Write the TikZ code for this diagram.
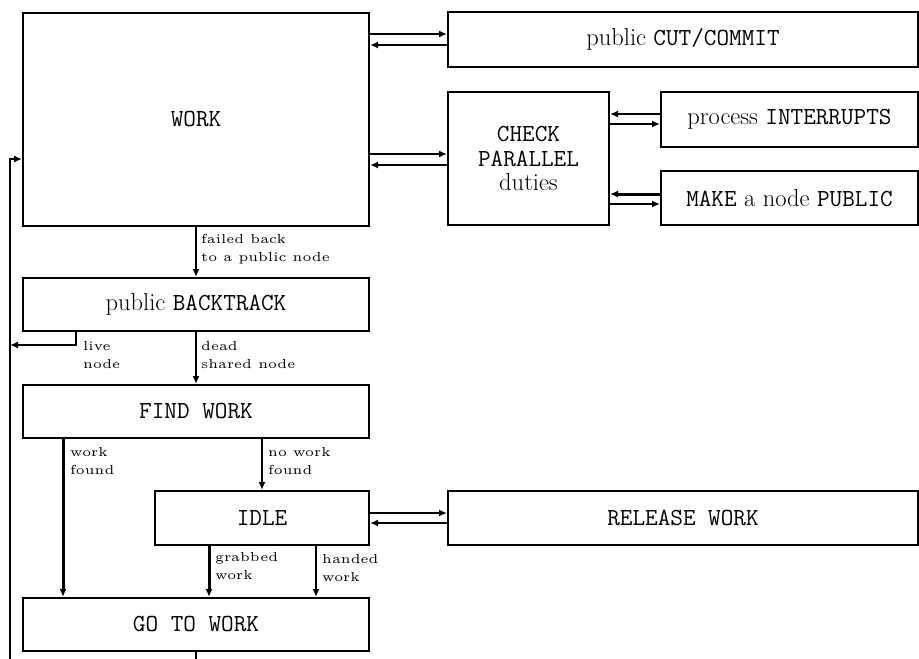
\documentclass[tikz,border=0pt]{standalone}
\usetikzlibrary{arrows.meta}
% small, widely spaced annotation text next to the flow arrows
\newcommand{\flowlbl}[2]{\scalebox{2.62}{\fontsize{5}{6.9}\selectfont\begin{tabular}{@{}l@{}}#1\\#2\end{tabular}}}
\begin{document}
\begin{tikzpicture}[x=1pt,y=-1pt,
  box/.style={draw, line width=2pt, inner sep=0pt, align=center,
              font=\fontsize{24.5}{24.5}\selectfont},
  arr/.style={line width=2pt, -{Latex[length=8pt,width=7pt]}},
  heavy/.style={line width=3pt},
  lbl/.style={inner sep=0pt, anchor=west}]
\useasboundingbox (0,0) rectangle (919,659);

% boxes
\node[box, minimum width=346pt, minimum height=213pt] (work) at (196,119.5) {\texttt{WORK}};
\node[box, minimum width=470pt, minimum height=55pt] (cut) at (683,39.5) {public \texttt{CUT/COMMIT}};
\node[box, minimum width=161pt, minimum height=133pt] (check) at (528.5,158.5) {\texttt{CHECK}\\\texttt{PARALLEL}\\duties};
\node[box, minimum width=257pt, minimum height=55pt] (intr) at (789.5,119.5) {process \texttt{INTERRUPTS}};
\node[box, minimum width=257pt, minimum height=54pt] (make) at (789.5,198) {\texttt{MAKE} a node \texttt{PUBLIC}};
\node[box, minimum width=346pt, minimum height=53pt] (back) at (196,304.5) {public \texttt{BACKTRACK}};
\node[box, minimum width=346pt, minimum height=53pt] (find) at (196,411.5) {\texttt{FIND WORK}};
\node[box, minimum width=214pt, minimum height=54pt] (idle) at (262,518) {\texttt{IDLE}};
\node[box, minimum width=470pt, minimum height=54pt] (rel) at (683,518) {\texttt{RELEASE WORK}};
\node[box, minimum width=346pt, minimum height=53pt] (go) at (196,624.5) {\texttt{GO TO WORK}};

% two-way exchanges
\draw[arr] (work.east |- 0,34) -- (cut.west |- 0,34);
\draw[arr] (cut.west |- 0,45) -- (work.east |- 0,45);
\draw[arr] (work.east |- 0,154) -- (check.west |- 0,154);
\draw[arr] (check.west |- 0,165) -- (work.east |- 0,165);
\draw[arr] (intr.west |- 0,114) -- (check.east |- 0,114);
\draw[arr] (check.east |- 0,124) -- (intr.west |- 0,124);
\draw[arr, heavy] (make.west |- 0,194) -- (check.east |- 0,194);
\draw[arr] (check.east |- 0,204) -- (make.west |- 0,204);
\draw[arr] (idle.east |- 0,513) -- (rel.west |- 0,513);
\draw[arr] (rel.west |- 0,523) -- (idle.east |- 0,523);

% main flow
\draw[arr] (work.south) -- (back.north);
\draw[arr] (back.south) -- (find.north);
\draw[arr, heavy] (find.south -| 63,0) -- (go.north -| 63,0);
\draw[arr] (find.south -| 262,0) -- (idle.north -| 262,0);
\draw[arr, heavy] (idle.south -| 209,0) -- (go.north -| 209,0);
\draw[arr] (idle.south -| 316,0) -- (go.north -| 316,0);

% return loop to WORK
\coordinate (loopleft) at (10,159);
\coordinate (livein) at (10,345);
\draw[arr] (back.south -| 76,0) |- (livein);
\draw[arr] (go.south) -- ++(0,20) -| (loopleft) -- (work.west |- loopleft);

% annotations
\node[lbl] at (201,249) {\flowlbl{failed back}{to a public node}};
\node[lbl] at (83,356) {\flowlbl{live}{node}};
\node[lbl] at (201,356) {\flowlbl{dead}{shared node}};
\node[lbl] at (70,462) {\flowlbl{work}{found}};
\node[lbl] at (268,462) {\flowlbl{no work}{found}};
\node[lbl] at (215,567) {\flowlbl{grabbed}{work}};
\node[lbl] at (322,569) {\flowlbl{handed}{work}};
\end{tikzpicture}
\end{document}
